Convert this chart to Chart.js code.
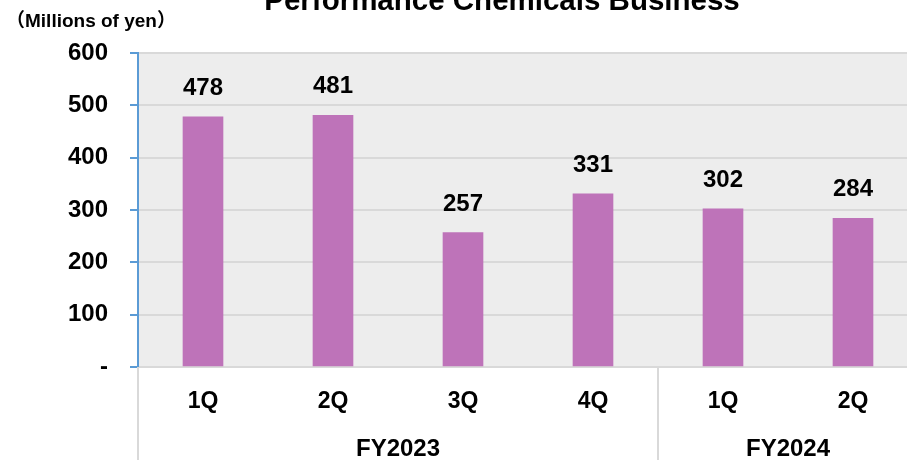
<!DOCTYPE html>
<html>
<head>
<meta charset="utf-8">
<script src="https://cdn.jsdelivr.net/npm/chart.js@4.4.0/dist/chart.umd.min.js"></script>
<style>
  html, body { margin: 0; padding: 0; overflow: hidden; background: #fff; }
  #wrap { position: relative; width: 930px; height: 460px; }
</style>
</head>
<body>
<div id="wrap"><canvas id="myChart"></canvas></div>
<script>
// data
const quarters = ['1Q', '2Q', '3Q', '4Q', '1Q', '2Q'];
const sales = [478, 481, 257, 331, 302, 284];
const fiscalYears = ['FY2023', 'FY2024'];
const yearSpans = [[0, 3], [4, 5]];   // category index range of each FY
const yTicks = [0, 100, 200, 300, 400, 500, 600];

const FONT = '"Liberation Sans", Arial, "Noto Sans CJK JP", sans-serif';
const BAR = '#BE73B9';

// gray plot background
const plotBg = {
    id: 'plotBg',
    beforeDraw(chart) {
        const a = chart.chartArea, c = chart.ctx;
        c.save();
        c.fillStyle = '#EDEDED';
        c.fillRect(a.left, a.top, a.right - a.left, a.bottom - a.top);
        c.restore();
    }
};

// title, unit label, value labels, fiscal year groups
const extras = {
    id: 'extras',
    afterDraw(chart) {
        const c = chart.ctx, a = chart.chartArea, x = chart.scales.x;
        c.save();
        c.fillStyle = '#000';
        c.textBaseline = 'alphabetic';

        c.font = 'bold 29.5px ' + FONT;
        c.textAlign = 'center';
        c.fillText('Performance Chemicals Business', 502, 10);

        c.font = 'bold 19px ' + FONT;
        c.textAlign = 'left';
        c.fillText('（Millions of yen）', 6, 27);

        // value labels
        c.font = 'bold 24px ' + FONT;
        c.textAlign = 'center';
        chart.getDatasetMeta(0).data.forEach((bar, i) => {
            c.fillText(String(sales[i]), bar.x, bar.y - 22);
        });

        // group separators
        c.strokeStyle = '#D9D9D9';
        c.lineWidth = 2;
        const bottom = chart.height;
        const seps = [a.left];
        yearSpans.forEach(s => {
            seps.push((x.getPixelForValue(s[1]) + x.getPixelForValue(s[1] + 1)) / 2);
        });
        seps.forEach(px => {
            c.beginPath();
            c.moveTo(px, a.bottom);
            c.lineTo(px, bottom);
            c.stroke();
        });

        // group labels
        c.font = 'bold 24px ' + FONT;
        fiscalYears.forEach((fy, i) => {
            const mid = (x.getPixelForValue(yearSpans[i][0]) + x.getPixelForValue(yearSpans[i][1])) / 2;
            c.fillText(fy, mid, 456);
        });
        c.restore();
    }
};

new Chart(document.getElementById('myChart'), {
    type: 'bar',
    data: {
        labels: quarters,
        datasets: [{
            data: sales,
            backgroundColor: BAR,
            barThickness: 40
        }]
    },
    options: {
        responsive: true,
        maintainAspectRatio: false,
        animation: false,
        layout: { padding: { top: 53, right: 12, left: 0, bottom: 0 } },
        plugins: {
            legend: { display: false },
            title: { display: false },
            tooltip: { enabled: false }
        },
        scales: {
            x: {
                afterFit(scale) { scale.height = 93; },
                grid: { display: false, drawTicks: false },
                border: { color: '#D9D9D9', width: 2 },
                ticks: {
                    padding: 21,
                    color: '#000',
                    font: { family: FONT, size: 23, weight: 'bold' }
                }
            },
            y: {
                min: 0,
                max: 600,
                afterFit(scale) { scale.width = 138; },
                afterBuildTicks(scale) { scale.ticks = yTicks.map(v => ({ value: v })); },
                grid: {
                    color: '#D9D9D9',
                    lineWidth: 2,
                    tickLength: 8,
                    tickColor: '#5B9BD5'
                },
                border: { color: '#5B9BD5', width: 2 },
                ticks: {
                    padding: 22,
                    color: '#000',
                    font: { family: FONT, size: 24, weight: 'bold' },
                    callback: v => v === 0 ? '-' : v
                }
            }
        }
    },
    plugins: [plotBg, extras]
});
</script>
</body>
</html>
